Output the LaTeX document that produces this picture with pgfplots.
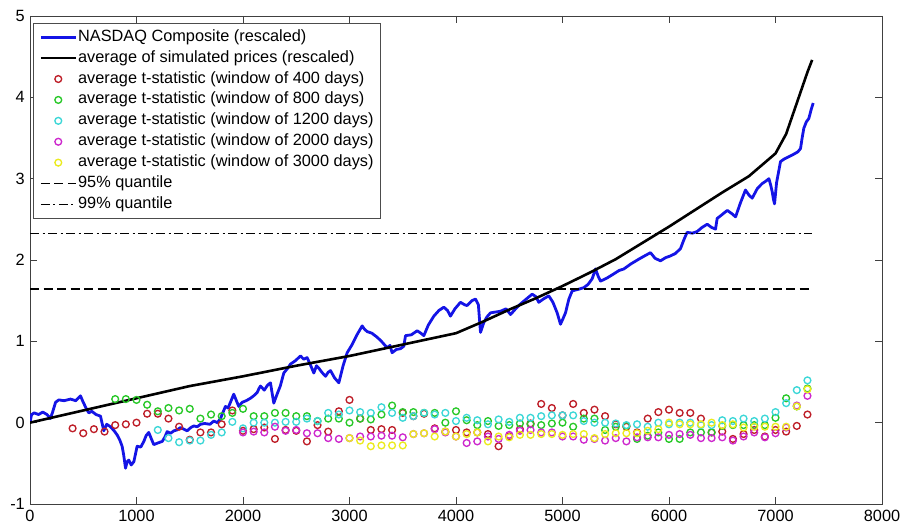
\documentclass[border=0pt]{standalone}
\usepackage{fontspec}
\setmainfont{Liberation Sans}
\usepackage{pgfplots}
\pgfplotsset{compat=1.18}

\definecolor{mblue}{RGB}{20,20,230}
\definecolor{mred}{RGB}{190,30,40}
\definecolor{mgreen}{RGB}{40,200,40}
\definecolor{mcyan}{RGB}{60,215,215}
\definecolor{mmag}{RGB}{205,40,205}
\definecolor{myel}{RGB}{235,235,30}

\newcommand{\lblfont}{\fontsize{16.3}{19}\selectfont}

\begin{document}
\begin{tikzpicture}
\begin{axis}[
  scale only axis, width=852pt, height=488pt,
  xmin=0, xmax=8000, ymin=-1, ymax=5,
  xtick={0,1000,...,8000}, ytick={-1,0,...,5},
  tick align=inside, tick pos=both, major tick length=7pt,
  axis line style={black!75, line width=0.8pt},
  tick style={black!75, line width=0.8pt},
  ticklabel style={font=\lblfont},
  /pgf/number format/assume math mode=true,
  /pgf/number format/set thousands separator={},
  xticklabel style={inner sep=0pt, yshift=-6pt},
  yticklabel style={inner sep=0pt, xshift=-5pt},
  legend style={at={(0.0035,0.986)}, anchor=north west, draw=black!70,
    line width=0.8pt, inner xsep=6pt, inner ysep=5pt, row sep=2.9pt,
    font=\lblfont,
    nodes={inner sep=1pt, text height=12pt, text depth=4pt}},
  legend cell align=left,
  legend image code/.code={\draw[mark repeat=2,mark phase=2]
    plot coordinates {(0pt,0pt) (17.5pt,0pt) (35pt,0pt)};},
]

% NASDAQ Composite, rescaled
\addplot[mblue, line width=2.8pt, line join=round] coordinates {
(0,0.00) (15,0.10) (40,0.12) (80,0.10) (120,0.13) (160,0.10) (190,0.05)
(210,0.12) (240,0.25) (270,0.28) (320,0.27) (380,0.29) (430,0.27) (474,0.33)
(500,0.25) (530,0.17) (552,0.12) (580,0.14) (620,0.10) (662,0.08) (693,-0.10)
(720,-0.02) (755,-0.05) (790,-0.10) (818,-0.15) (845,-0.22) (865,-0.29)
(880,-0.40) (897,-0.56) (912,-0.48) (928,-0.46) (950,-0.52) (975,-0.48)
(1006,-0.29) (1040,-0.30) (1069,-0.23) (1090,-0.16) (1115,-0.12) (1140,-0.20)
(1162,-0.27) (1200,-0.25) (1242,-0.23) (1265,-0.18) (1288,-0.11) (1320,-0.13)
(1351,-0.10) (1380,-0.09) (1413,-0.06) (1445,-0.08) (1476,-0.10) (1510,-0.06)
(1538,-0.04) (1570,-0.05) (1601,-0.02) (1640,-0.01) (1690,-0.02) (1726,0.02)
(1760,0.00) (1788,0.05) (1810,0.12) (1835,0.20) (1860,0.18) (1882,0.25)
(1913,0.35) (1935,0.28) (1960,0.20) (1992,0.25) (2030,0.27) (2070,0.30)
(2100,0.33) (2133,0.37) (2150,0.42) (2164,0.45) (2200,0.40) (2230,0.46)
(2258,0.49) (2275,0.35) (2289,0.24) (2320,0.35) (2350,0.45) (2383,0.61)
(2420,0.67) (2446,0.72) (2490,0.76) (2540,0.82) (2570,0.78) (2602,0.80)
(2630,0.72) (2665,0.61) (2690,0.70) (2712,0.67) (2740,0.62) (2775,0.57)
(2800,0.62) (2822,0.64) (2860,0.55) (2900,0.49) (2940,0.70) (2978,0.86)
(3020,0.95) (3070,1.08) (3119,1.19) (3140,1.15) (3166,1.12) (3210,1.10)
(3260,1.05) (3300,1.00) (3354,0.92) (3380,0.95) (3400,0.86) (3440,0.90)
(3480,0.91) (3510,0.94) (3526,1.07) (3580,1.08) (3636,1.13) (3670,1.10)
(3698,1.07) (3740,1.20) (3792,1.31) (3840,1.38) (3886,1.42) (3920,1.38)
(3948,1.31) (3990,1.40) (4042,1.48) (4080,1.45) (4104,1.44) (4150,1.50)
(4183,1.52) (4210,1.45) (4230,1.11) (4261,1.23) (4290,1.30) (4324,1.35)
(4370,1.36) (4418,1.37) (4470,1.40) (4512,1.33) (4560,1.40) (4606,1.46)
(4660,1.52) (4715,1.58) (4750,1.55) (4777,1.48) (4820,1.52) (4871,1.56)
(4910,1.48) (4950,1.35) (4981,1.21) (5005,1.28) (5028,1.35) (5060,1.52)
(5091,1.62) (5150,1.64) (5200,1.66) (5240,1.70) (5279,1.77) (5310,1.89)
(5335,1.80) (5357,1.74) (5420,1.78) (5482,1.83) (5530,1.87) (5576,1.89)
(5640,1.95) (5716,2.01) (5770,2.05) (5826,2.09) (5870,2.02) (5920,1.99)
(5970,2.03) (6014,2.05) (6060,2.08) (6108,2.14) (6140,2.25) (6170,2.34)
(6220,2.33) (6264,2.35) (6310,2.40) (6359,2.44) (6400,2.40) (6437,2.38)
(6452,2.51) (6500,2.56) (6547,2.61) (6590,2.57) (6625,2.53) (6670,2.70)
(6718,2.86) (6750,2.80) (6781,2.76) (6830,2.88) (6875,2.94) (6910,2.97)
(6938,3.00) (6955,2.92) (6969,2.84) (6980,2.75) (6991,2.69) (7010,2.95)
(7047,3.21) (7080,3.24) (7110,3.26) (7170,3.30) (7210,3.33) (7235,3.37)
(7250,3.50) (7266,3.62) (7290,3.70) (7313,3.74) (7335,3.85) (7354,3.93)
};
\addlegendentry{NASDAQ Composite (rescaled)}

% average of simulated prices, rescaled
\addplot[black, line width=2.6pt, line join=round] coordinates {
(0,0.00) (500,0.15) (1000,0.30) (1500,0.45) (2000,0.57) (2500,0.70)
(3000,0.82) (3500,0.96) (4000,1.10) (4250,1.24) (4500,1.39) (4750,1.53)
(5000,1.68) (5250,1.84) (5500,2.01) (5750,2.21) (6000,2.41) (6250,2.62)
(6500,2.83) (6750,3.03) (7000,3.31) (7100,3.55) (7200,3.93) (7300,4.31)
(7344,4.46)
};
\addlegendentry{average of simulated prices (rescaled)}

% average t-statistics
\pgfplotsset{tstat/.style={only marks, mark=o, mark size=3.4pt,
  mark options={line width=1.35pt, draw=#1}, color=#1}}

\addplot[tstat=mred] coordinates {
(400,-0.07) (500,-0.13) (600,-0.08) (700,-0.11) (800,-0.03) (900,-0.02)
(1000,0.00) (1100,0.11) (1200,0.11) (1300,0.05) (1400,-0.05) (1500,-0.21)
(1600,-0.12) (1700,-0.12) (1800,-0.02) (1900,0.15) (2000,-0.10) (2100,-0.08)
(2200,-0.06) (2300,-0.20) (2400,-0.09) (2500,-0.10) (2600,-0.23) (2700,-0.03)
(2800,-0.11) (2900,0.14) (3000,0.28) (3100,0.05) (3200,-0.09) (3300,-0.08)
(3400,-0.09) (3500,0.12) (3600,0.08) (3700,0.11) (3800,-0.07) (3900,-0.11)
(4000,-0.09) (4100,-0.12) (4200,-0.12) (4300,-0.14) (4400,-0.29) (4500,-0.17)
(4600,-0.08) (4700,-0.01) (4800,0.23) (4900,0.18) (5000,0.09) (5100,0.23)
(5200,0.12) (5300,0.16) (5400,0.08) (5500,-0.02) (5600,-0.05) (5700,-0.12)
(5800,0.05) (5900,0.13) (6000,0.16) (6100,0.12) (6200,0.12) (6300,0.05)
(6400,-0.12) (6500,-0.11) (6600,-0.20) (6700,-0.14) (6800,-0.09) (6900,-0.17)
(7000,-0.09) (7100,-0.11) (7200,-0.04) (7300,0.10)
};
\addlegendentry{average t-statistic (window of 400 days)}

\addplot[tstat=mgreen] coordinates {
(800,0.29) (900,0.29) (1000,0.28) (1100,0.22) (1200,0.14) (1300,0.18)
(1400,0.15) (1500,0.17) (1600,0.05) (1700,0.10) (1800,0.08) (1900,0.12)
(2000,0.17) (2100,0.08) (2200,0.08) (2300,0.12) (2400,0.12) (2500,0.08)
(2600,0.08) (2700,0.02) (2800,0.05) (2900,0.05) (3000,0.00) (3100,0.05)
(3200,0.04) (3300,0.10) (3400,0.21) (3500,0.13) (3600,0.13) (3700,0.12)
(3800,0.12) (3900,0.00) (4000,0.14) (4100,0.03) (4200,-0.03) (4300,0.02)
(4400,-0.04) (4500,-0.03) (4600,-0.01) (4700,-0.02) (4800,-0.03) (4900,-0.01)
(5000,0.00) (5100,-0.05) (5200,0.05) (5300,0.05) (5400,-0.09) (5500,-0.05)
(5600,-0.04) (5700,-0.20) (5800,-0.16) (5900,-0.12) (6000,-0.20) (6100,-0.20)
(6200,-0.12) (6300,-0.12) (6400,-0.12) (6500,-0.04) (6600,-0.03) (6700,-0.03)
(6800,-0.03) (6900,-0.03) (7000,0.06) (7100,0.30) (7200,0.20) (7300,0.42)
};
\addlegendentry{average t-statistic (window of 800 days)}

\addplot[tstat=mcyan] coordinates {
(1200,-0.09) (1300,-0.19) (1400,-0.24) (1500,-0.22) (1600,-0.22) (1700,-0.15)
(1800,-0.12) (1900,0.01) (2000,-0.07) (2100,0.00) (2200,0.00) (2300,0.00)
(2400,0.01) (2500,0.01) (2600,0.05) (2700,0.02) (2800,0.12) (2900,0.10)
(3000,0.15) (3100,0.13) (3200,0.12) (3300,0.19) (3400,0.12) (3500,0.06)
(3600,0.08) (3700,0.12) (3800,0.10) (3900,0.12) (4000,0.02) (4100,0.06)
(4200,0.03) (4300,-0.02) (4400,0.04) (4500,0.01) (4600,0.06) (4700,0.06)
(4800,0.08) (4900,0.09) (5000,0.09) (5100,0.09) (5200,0.02) (5300,0.00)
(5400,0.00) (5500,-0.01) (5600,-0.03) (5700,-0.02) (5800,-0.05) (5900,0.00)
(6000,-0.02) (6100,0.00) (6200,0.00) (6300,-0.03) (6400,-0.03) (6500,0.03)
(6600,0.02) (6700,0.05) (6800,0.02) (6900,0.05) (7000,0.13) (7100,0.24)
(7200,0.40) (7300,0.52)
};
\addlegendentry{average t-statistic (window of 1200 days)}

\addplot[tstat=mmag] coordinates {
(2000,-0.12) (2100,-0.11) (2200,-0.12) (2300,-0.05) (2400,-0.10) (2500,-0.09)
(2600,-0.13) (2700,-0.13) (2800,-0.19) (2900,-0.20) (3000,-0.19) (3100,-0.17)
(3200,-0.17) (3300,-0.16) (3400,-0.16) (3500,-0.18) (3600,-0.14) (3700,-0.13)
(3800,-0.08) (3900,-0.12) (4000,-0.17) (4100,-0.25) (4200,-0.23) (4300,-0.17)
(4400,-0.20) (4500,-0.15) (4600,-0.10) (4700,-0.09) (4800,-0.12) (4900,-0.12)
(5000,-0.17) (5100,-0.17) (5200,-0.21) (5300,-0.20) (5400,-0.22) (5500,-0.19)
(5600,-0.23) (5700,-0.18) (5800,-0.18) (5900,-0.18) (6000,-0.15) (6100,-0.14)
(6200,-0.15) (6300,-0.19) (6400,-0.19) (6500,-0.18) (6600,-0.22) (6700,-0.17)
(6800,-0.12) (6900,-0.18) (7000,-0.13) (7100,-0.06) (7200,0.21) (7300,0.33)
};
\addlegendentry{average t-statistic (window of 2000 days)}

\addplot[tstat=myel] coordinates {
(3000,-0.19) (3100,-0.22) (3200,-0.29) (3300,-0.28) (3400,-0.28) (3500,-0.28)
(3600,-0.14) (3700,-0.13) (3800,-0.17) (3900,-0.11) (4000,-0.17) (4100,-0.14)
(4200,-0.12) (4300,-0.23) (4400,-0.17) (4500,-0.18) (4600,-0.15) (4700,-0.15)
(4800,-0.14) (4900,-0.14) (5000,-0.15) (5100,-0.14) (5200,-0.14) (5300,-0.19)
(5400,-0.14) (5500,-0.13) (5600,-0.13) (5700,-0.13) (5800,-0.10) (5900,-0.08)
(6000,0.00) (6100,-0.02) (6200,-0.02) (6300,-0.02) (6400,0.00) (6500,-0.03)
(6600,-0.02) (6700,-0.06) (6800,-0.05) (6900,-0.05) (7000,-0.05) (7100,-0.05)
(7200,0.20) (7300,0.41)
};
\addlegendentry{average t-statistic (window of 3000 days)}

% quantiles of the standard normal distribution
\addplot[black, line width=1.3pt, dash pattern=on 9pt off 4.5pt] coordinates {(0,1.645) (7344,1.645)};
\addlegendentry{95\% quantile}
\addplot[black, line width=1.3pt, dash pattern=on 9pt off 3.5pt on 2pt off 3.5pt] coordinates {(0,2.326) (7344,2.326)};
\addlegendentry{99\% quantile}

\end{axis}
\pgfresetboundingbox
\path ([shift={(-30pt,-20pt)}]current axis.south west) rectangle ([shift={(21pt,16pt)}]current axis.north east);
\end{tikzpicture}
\end{document}
